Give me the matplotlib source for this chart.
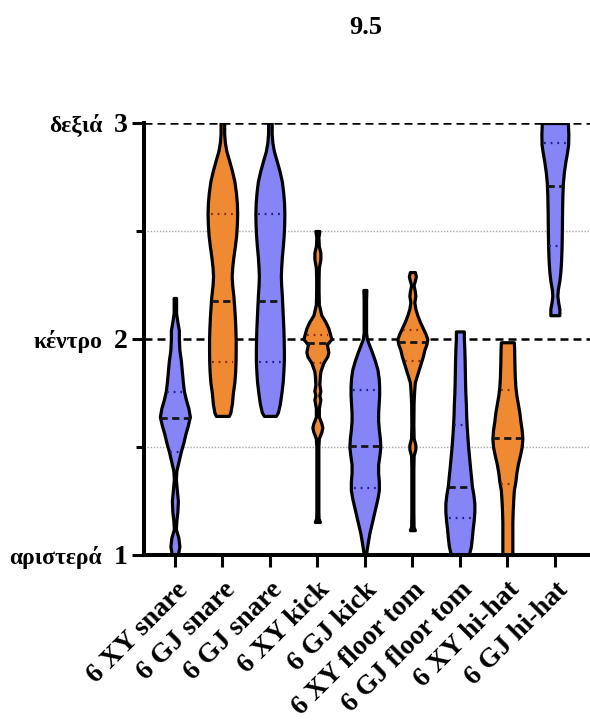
import numpy as np
import matplotlib
matplotlib.use("Agg")
import matplotlib.pyplot as plt
from matplotlib.transforms import ScaledTranslation

# ---------------- data ----------------
categories = ["6 XY snare", "6 GJ snare", "6 GJ snare", "6 XY kick", "6 GJ kick",
              "6 XY floor tom", "6 GJ floor tom", "6 XY hi-hat", "6 GJ hi-hat"]
groups = ["blue", "orange", "blue", "orange", "blue", "orange", "blue", "orange", "blue"]

# density profiles (value, relative half-width)
v1_y = [1.00, 1.04, 1.08, 1.12, 1.16, 1.20, 1.25, 1.30, 1.35, 1.39, 1.44, 1.48, 1.52, 1.56, 1.60,
        1.64, 1.68, 1.72, 1.76, 1.80, 1.85, 1.90, 1.95, 2.00, 2.04, 2.08, 2.12, 2.19]
v1_w = [3, 4.5, 3.5, 1, 1.5, 2.5, 3, 2, 1, 1.5, 4, 6, 8.5, 10.5, 13,
        15, 13.5, 11, 9, 8, 7, 6, 4.5, 4, 4, 2.5, 1.2, 1.2]

v2_y = [1.644, 1.66, 1.70, 1.75, 1.80, 1.85, 1.90, 1.95, 2.00, 2.05, 2.10, 2.15, 2.20, 2.25, 2.29,
        2.33, 2.38, 2.43, 2.48, 2.53, 2.58, 2.63, 2.68, 2.73, 2.78, 2.83, 2.87, 2.91, 2.95, 3.00]
v2_w = [6.5, 8, 9.5, 10.5, 12, 12.8, 13.2, 13.3, 13.3, 13, 12.5, 11.8, 11, 9.8, 9.3,
        9.8, 11, 12.5, 13.8, 14.5, 14.8, 14.5, 13.5, 12, 9.5, 6.5, 4, 2.5, 1.8, 1.8]

v3_y = [1.644, 1.66, 1.70, 1.75, 1.80, 1.85, 1.90, 1.95, 2.00, 2.05, 2.10, 2.15, 2.20, 2.25, 2.29,
        2.33, 2.38, 2.43, 2.48, 2.53, 2.58, 2.63, 2.68, 2.73, 2.78, 2.83, 2.87, 2.91, 2.95, 3.00]
v3_w = [6, 8, 10, 11.5, 12.8, 13.5, 14, 14, 13.8, 13.5, 13, 12.5, 12, 11.3, 11,
        11.3, 12, 13, 13.8, 14.3, 14.5, 14.2, 13.3, 12, 9.5, 6.5, 4, 2.5, 1.8, 1.8]

v4_y = [1.153, 1.17, 1.20, 1.30, 1.40, 1.50, 1.54, 1.57, 1.59, 1.61, 1.64, 1.68, 1.72, 1.74, 1.76,
        1.79, 1.83, 1.85, 1.89, 1.92, 1.94, 1.975, 2.00, 2.05, 2.08, 2.11, 2.14, 2.16, 2.22, 2.28,
        2.33, 2.37, 2.40, 2.43, 2.47, 2.50]
v4_w = [2.5, 1.2, 1, 1, 1, 1, 1.5, 4, 5, 4, 1.5, 1.5, 3, 2, 3,
        2, 2.5, 3, 6, 10, 11, 9.5, 14, 11, 8, 4, 2.5, 1.5, 1.2, 1.2,
        1.5, 3, 3, 1.5, 1, 2]

v5_y = [1.00, 1.03, 1.06, 1.10, 1.14, 1.18, 1.22, 1.26, 1.30, 1.34, 1.38, 1.42, 1.46, 1.50, 1.54,
        1.58, 1.62, 1.66, 1.70, 1.74, 1.78, 1.82, 1.86, 1.90, 1.94, 1.97, 2.00, 2.03, 2.10, 2.18, 2.227]
v5_w = [1, 2, 3, 4.5, 6.5, 8.5, 10.5, 12.5, 14, 14, 13.3, 13.3, 14.5, 15.5, 15,
        14, 13.3, 13.3, 13.8, 14.3, 14.3, 13.8, 12.5, 10, 7, 4.5, 2, 1.2, 1.2, 1.2, 1.5]

v6_y = [1.115, 1.13, 1.20, 1.30, 1.40, 1.46, 1.49, 1.51, 1.54, 1.60, 1.70, 1.76, 1.80, 1.83, 1.86,
        1.89, 1.92, 1.95, 1.975, 2.00, 2.025, 2.05, 2.08, 2.11, 2.14, 2.17, 2.20, 2.22, 2.25, 2.27,
        2.29, 2.31]
v6_w = [2.5, 1.2, 1, 1, 1, 1.3, 3, 3, 1.3, 1, 1.2, 1.8, 2.5, 4.5, 6.5,
        8.5, 10.5, 12, 14, 15, 13, 10.5, 7.5, 5, 3, 2, 3, 2.5, 1.2, 2.5,
        3.5, 2.5]

v7_y = [1.00, 1.04, 1.08, 1.12, 1.16, 1.20, 1.24, 1.28, 1.32, 1.36, 1.40, 1.45, 1.50, 1.55, 1.60,
        1.65, 1.70, 1.75, 1.80, 1.85, 1.90, 1.95, 2.00, 2.035]
v7_w = [9, 11, 12, 12.8, 13.8, 14.5, 14.5, 13.5, 12, 11.2, 10.3, 9.3, 8.3, 7.5, 6.8,
        6.3, 6, 5.5, 5.2, 5, 4.8, 4.5, 4, 4]

v8_y = [1.00, 1.05, 1.10, 1.15, 1.20, 1.25, 1.30, 1.34, 1.38, 1.42, 1.46, 1.50, 1.54, 1.58, 1.62,
        1.66, 1.70, 1.74, 1.78, 1.82, 1.86, 1.90, 1.95, 1.985]
v8_w = [5, 5, 5, 5, 5.3, 5.8, 6.5, 8, 9, 10.5, 12.5, 14.3, 15, 14.3, 13,
        12, 10.5, 9, 8, 7.5, 7.2, 7, 6.8, 6.5]

v9_y = [2.11, 2.14, 2.17, 2.20, 2.23, 2.27, 2.31, 2.36, 2.42, 2.50, 2.58, 2.66, 2.72, 2.77, 2.82,
        2.86, 2.90, 2.95, 3.00]
v9_w = [4.5, 4.5, 3.3, 2.5, 3, 4.5, 5.5, 6.2, 6.7, 7, 7.2, 7.5, 8, 9, 10.5,
        12, 13.3, 13.5, 13]

profiles_y = [v1_y, v2_y, v3_y, v4_y, v5_y, v6_y, v7_y, v8_y, v9_y]
profiles_w = [v1_w, v2_w, v3_w, v4_w, v5_w, v6_w, v7_w, v8_w, v9_w]

medians = [1.634, 2.177, 2.177, 1.98, 1.505, 1.985, 1.315, 1.54, 2.71]
q1 = [1.477, 1.893, 1.893, 1.89, 1.31, 1.90, 1.17, 1.33, 2.43]
q3 = [1.755, 2.579, 2.579, 2.02, 1.765, 2.04, 1.60, 1.764, 2.906]

y_ticks = [1, 2, 3]
y_tick_labels = ["1", "2", "3"]
y_words = ["αριστερά", "κέντρο", "δεξιά"]
title = "9.5"

# ---------------- style ----------------
colors = {"blue": "#8585F7", "orange": "#EF8A33"}
dark = {"blue": "#1c1c8a", "orange": "#8a2c00"}
WSCALE = 1 / 47.5  # relative width -> category units
SERIF = ["Liberation Serif", "DejaVu Serif"]

fig = plt.figure(figsize=(5.9, 7.25), dpi=100)
ax = fig.add_axes([144 / 590, 1 - 555 / 725, 1 - 144 / 590, (555 - 123) / 725])

for yv in [2, 3]:
    ax.axhline(yv, color="black", lw=1.8, ls=(0, (3.2, 2.0)), zorder=0)
for yv in [1.5, 2.5]:
    ax.axhline(yv, color="#a8a8a8", lw=1.0, ls=(0, (1, 1.2)), zorder=0)

for i in range(len(categories)):
    yy = np.array(profiles_y[i])
    ww = np.array(profiles_w[i]) * WSCALE
    c = colors[groups[i]]
    ax.fill_betweenx(yy, i - ww, i + ww, facecolor=c, edgecolor="black",
                     linewidth=2.3, joinstyle="round", zorder=2)
    wm = np.interp(medians[i], yy, ww)
    ax.hlines(medians[i], i - wm, i + wm, colors="#151515", lw=2.0,
              linestyles=(0, (2.6, 1.6)), zorder=3)
    for q in (q1[i], q3[i]):
        wq = np.interp(q, yy, ww) * 0.8
        ax.hlines(q, i - wq, i + wq, colors=dark[groups[i]], lw=1.6,
                  linestyles=(0, (0.8, 2.2)), zorder=3)

ax.set_xlim(-0.65, 8.74)
ax.set_ylim(1, 3)

for s in ["top", "right"]:
    ax.spines[s].set_visible(False)
for s in ["left", "bottom"]:
    ax.spines[s].set_linewidth(2.9)

ax.set_yticks(y_ticks)
ax.set_yticklabels(y_tick_labels, fontfamily=SERIF, fontweight="bold", fontsize=20)
ax.set_yticks([1.5, 2.5], minor=True)
ax.tick_params(axis="y", which="major", length=8.6, width=2.2, pad=3)
ax.tick_params(axis="y", which="minor", length=5.8, width=2.2)

ax.set_xticks(range(len(categories)))
ax.set_xticklabels(categories, fontfamily=SERIF, fontweight="bold", fontsize=20,
                   rotation=45, ha="right", va="center", rotation_mode="anchor")
ax.tick_params(axis="x", which="major", length=8.6, width=2.2, pad=6)
shift = ScaledTranslation(9 / 100, -11 / 100, fig.dpi_scale_trans)
for lab in ax.get_xticklabels():
    lab.set_transform(lab.get_transform() + shift)

for yv, w in zip(y_ticks, y_words):
    ax.text(-0.094, yv, w, transform=ax.get_yaxis_transform(), ha="right",
            va="center_baseline", fontfamily=SERIF, fontweight="bold", fontsize=17)

fig.text(366 / 590, 1 - 28 / 725, title, ha="center", va="center",
         fontfamily=SERIF, fontweight="bold", fontsize=19)

fig.savefig("out.png", dpi=100)
